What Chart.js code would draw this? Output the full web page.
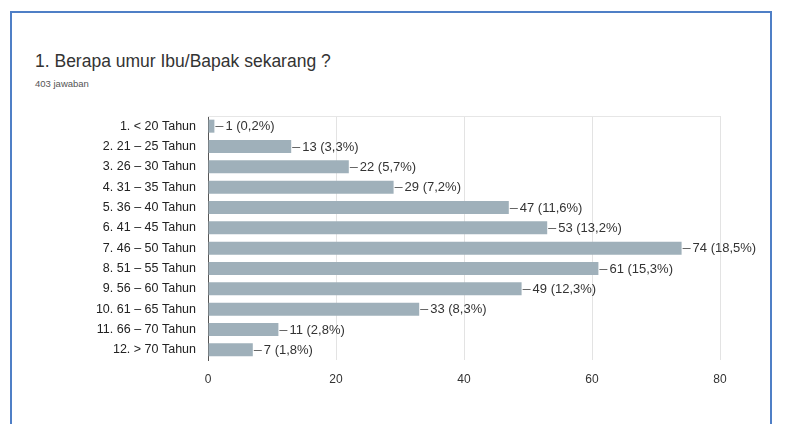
<!DOCTYPE html>
<html>
<head>
<meta charset="utf-8">
<script src="https://cdn.jsdelivr.net/npm/chart.js@4.4.1/dist/chart.umd.min.js"></script>
<style>
  body { margin: 0; background: #fff; width: 785px; height: 424px; overflow: hidden; position: relative; font-family: "Liberation Sans", Arial, sans-serif; }
  #frame { position: absolute; left: 10px; top: 11px; width: 762px; height: 430px; border: 2px solid #4f7fc6; border-bottom: none; box-sizing: border-box; }
  #title { position: absolute; left: 35px; top: 51px; font-size: 17.5px; color: #333; }
  #sub { position: absolute; left: 35px; top: 78px; font-size: 9.5px; color: #555; }
  #wrap { position: absolute; left: 0; top: 0; width: 785px; height: 424px; }
</style>
</head>
<body>
<div id="frame"></div>
<div id="title">1. Berapa umur Ibu/Bapak sekarang ?</div>
<div id="sub">403 jawaban</div>
<div id="wrap"><canvas id="ageChart"></canvas></div>
<script>
let ageGroups = ["1. < 20 Tahun", "2. 21 – 25 Tahun", "3. 26 – 30 Tahun", "4. 31 – 35 Tahun",
    "5. 36 – 40 Tahun", "6. 41 – 45 Tahun", "7. 46 – 50 Tahun", "8. 51 – 55 Tahun",
    "9. 56 – 60 Tahun", "10. 61 – 65 Tahun", "11. 66 – 70 Tahun", "12. > 70 Tahun"];
let answerCounts = [1, 13, 22, 29, 47, 53, 74, 61, 49, 33, 11, 7];
let answerPercents = ["0,2%", "3,3%", "5,7%", "7,2%", "11,6%", "13,2%", "18,5%", "15,3%", "12,3%", "8,3%", "2,8%", "1,8%"];
let xTicks = [0, 20, 40, 60, 80];

// leader line + "n (p%)" text after each bar, like Google Forms
let barLabels = {
    id: "barLabels",
    afterDatasetsDraw(chart) {
        let ctx = chart.ctx;
        let meta = chart.getDatasetMeta(0);
        ctx.save();
        ctx.font = "13px 'Liberation Sans', Arial, sans-serif";
        ctx.fillStyle = "#333";
        ctx.strokeStyle = "#666";
        ctx.lineWidth = 1;
        ctx.textBaseline = "middle";
        meta.data.forEach((bar, i) => {
            let x = bar.x;
            let y = Math.round(bar.y) + 0.5;
            ctx.beginPath();
            ctx.moveTo(x + 1, y);
            ctx.lineTo(x + 9, y);
            ctx.stroke();
            ctx.fillText(answerCounts[i] + " (" + answerPercents[i] + ")", x + 11, y);
        });
        ctx.restore();
    }
};

let plotFrame = {
    id: "plotFrame",
    beforeDatasetsDraw(chart) {
        let a = chart.chartArea;
        let ctx = chart.ctx;
        ctx.save();
        ctx.strokeStyle = "#e6e6e6";
        ctx.lineWidth = 1;
        ctx.beginPath();
        ctx.moveTo(a.left, Math.round(a.top) + 0.5);
        ctx.lineTo(a.right, Math.round(a.top) + 0.5);
        ctx.stroke();
        ctx.restore();
    }
};

new Chart(document.getElementById("ageChart"), {
    type: "bar",
    data: {
        labels: ageGroups,
        datasets: [{
            data: answerCounts,
            backgroundColor: "#9fb0ba",
            categoryPercentage: 1,
            barPercentage: 0.64
        }]
    },
    options: {
        indexAxis: "y",
        responsive: true,
        maintainAspectRatio: false,
        animation: false,
        layout: { padding: { top: 116, right: 65, left: 0, bottom: 0 } },
        plugins: { legend: { display: false }, tooltip: { enabled: false } },
        scales: {
            x: {
                min: 0,
                max: 80,
                afterBuildTicks: scale => { scale.ticks = xTicks.map(v => ({ value: v })); },
                afterFit: scale => { scale.height = 64; },
                grid: { color: "#e3e3e3", drawTicks: false },
                border: { display: false },
                ticks: { padding: 12, color: "#333", font: { size: 12, family: "'Liberation Sans', Arial, sans-serif" } }
            },
            y: {
                afterFit: scale => { scale.width = 208; },
                grid: { display: false },
                border: { color: "#555", width: 1 },
                ticks: { padding: 4, color: "#222", font: { size: 12.5, family: "'Liberation Sans', Arial, sans-serif" } }
            }
        }
    },
    plugins: [barLabels, plotFrame]
});
</script>
</body>
</html>
